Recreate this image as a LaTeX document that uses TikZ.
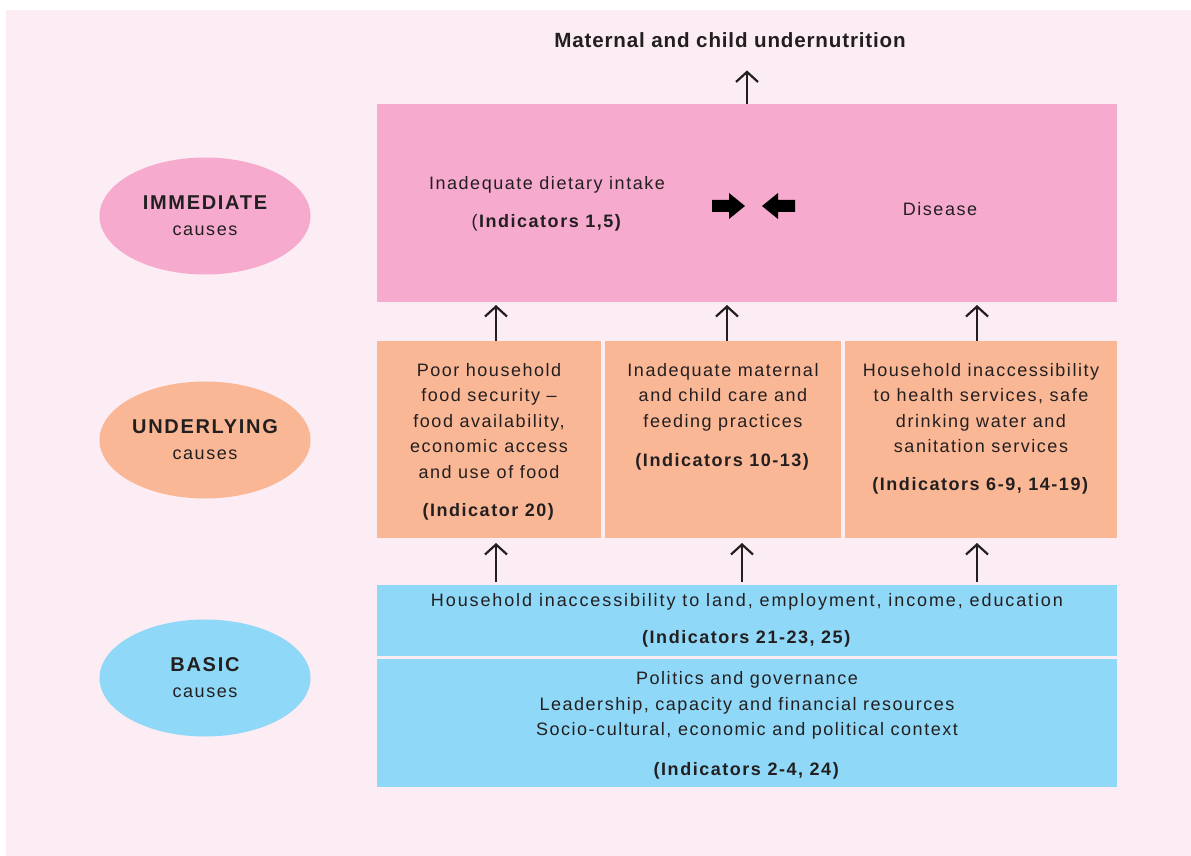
\documentclass[tikz,border=0pt]{standalone}
\usepackage{fontspec}
\setmainfont{Liberation Sans}[LetterSpace=8.5]
\newfontfamily\titlefont{Liberation Sans}[LetterSpace=4]
\usetikzlibrary{shapes.geometric,arrows.meta,positioning}
\definecolor{fondo}{RGB}{252,236,243}
\definecolor{rosa}{RGB}{245,170,206}
\definecolor{naranja}{RGB}{249,183,149}
\definecolor{celeste}{RGB}{143,216,247}
\definecolor{tinta}{RGB}{35,31,32}
\newcommand\nivel[1]{{\fontsize{10}{13}\selectfont\bfseries #1}}

\begin{document}
\begin{tikzpicture}[x=0.5pt, y=-0.5pt, node distance=2pt]
  % definicion de estilos
  %Define style for boxes
   \tikzset{
   bloque/.style={
           rectangle,
           inner sep=0pt,
           outer sep=0pt,
           minimum height=98.5pt},
   causa/.style={
           ellipse,
           inner sep=0pt,
           minimum width=105.5pt,
           minimum height=58.5pt,
           align=center,
           text=tinta,
           font=\fontsize{9}{13}\selectfont},
   texto/.style={
           inner sep=0pt,
           align=center,
           text=tinta,
           font=\fontsize{9}{12.75}\selectfont},
    % Define arrow style
    arrow/.style={
           -{Straight Barb[length=5pt,width=11pt]},
           line width=1.1pt,
           draw=tinta}
    }
  \tikzstyle{flecha} = [fill=black]

  \useasboundingbox (0,0) rectangle (1191,856);
  \fill[fondo] (6,10) rectangle (1191,856);

  % Gráfico
  \node[texto, font=\titlefont\fontsize{10.3}{12}\selectfont\bfseries] (titulo) at (730,40) {Maternal and child undernutrition};

  \node[bloque, fill=rosa, minimum width=370pt, minimum height=99pt] (inmediata) at (747,203) {};
  \node[texto] (dieta) at (547,204) {Inadequate dietary intake\\[6.5pt](\textbf{Indicators 1,5)}};
  \node[texto] (enfermedad) at (940,209) {Disease};
  \foreach \s in {1,-1}
    \fill[flecha, shift={(753.5,206)}, xscale=\s] (-41.5,-6) -- (-24.5,-6) -- (-24.5,-13) -- (-8.5,0) -- (-24.5,13) -- (-24.5,6) -- (-41.5,6) -- cycle;

  \node[bloque, fill=naranja, minimum width=112pt, below=19.5pt of inmediata.south west, anchor=north west] (alimento) {};
  \node[bloque, fill=naranja, minimum width=118pt, right=of alimento] (cuidado) {};
  \node[bloque, fill=naranja, minimum width=136pt, right=of cuidado] (salud) {};
  \node[texto, below=11pt of alimento.north] (alimentotxt) {Poor household\\food security –\\food availability,\\economic access\\and use of food\\[6.5pt]\textbf{(Indicator 20)}};
  \node[texto, below=11pt of cuidado.north] (cuidadotxt) {Inadequate maternal\\and child care and\\feeding practices\\[7pt]\textbf{(Indicators 10-13)}};
  \node[texto, below=11pt of salud.north] (saludtxt) {Household inaccessibility\\to health services, safe\\drinking water and\\sanitation services\\[6pt]\textbf{(Indicators 6-9, 14-19)}};

  \node[bloque, texto, fill=celeste, minimum width=370pt, minimum height=35.5pt, below=23.5pt of alimento.south west, anchor=north west] (acceso) {\addfontfeatures{LetterSpace=10.5}Household inaccessibility to land, employment, income, education\\[5.5pt]\textbf{(Indicators 21-23, 25)}};
  \node[bloque, texto, fill=celeste, minimum width=370pt, minimum height=64pt, below=1.5pt of acceso] (contexto) {\rule{0pt}{9pt}Politics and governance\\Leadership, capacity and financial resources\\Socio-cultural, economic and political context\\[7pt]\textbf{(Indicators 2-4, 24)}};

  \node[causa, fill=rosa] (causa1) at (205,216) {\nivel{IMMEDIATE}\\causes};
  \node[causa, fill=naranja] (causa2) at (205,440) {\nivel{UNDERLYING}\\causes};
  \node[causa, fill=celeste] (causa3) at (205,678) {\nivel{BASIC}\\causes};

  \draw[arrow, shorten >=11.25pt] (inmediata.north) -- (inmediata.north |- titulo.south);
  \foreach \nodo/\dx in {alimento/3.5pt, cuidado/2pt, salud/-2pt}
    \draw[arrow, shorten >=1.5pt] ([xshift=\dx]\nodo.north) coordinate (a) -- (a |- inmediata.south);
  \foreach \nodo/\dx in {alimento/3.5pt, cuidado/9.5pt, salud/-2pt}{
    \path ([xshift=\dx]\nodo.south) coordinate (b);
    \draw[arrow, shorten <=1.5pt, shorten >=2.5pt] (b |- acceso.north) -- (b);
  }
 \end{tikzpicture}
\end{document}
